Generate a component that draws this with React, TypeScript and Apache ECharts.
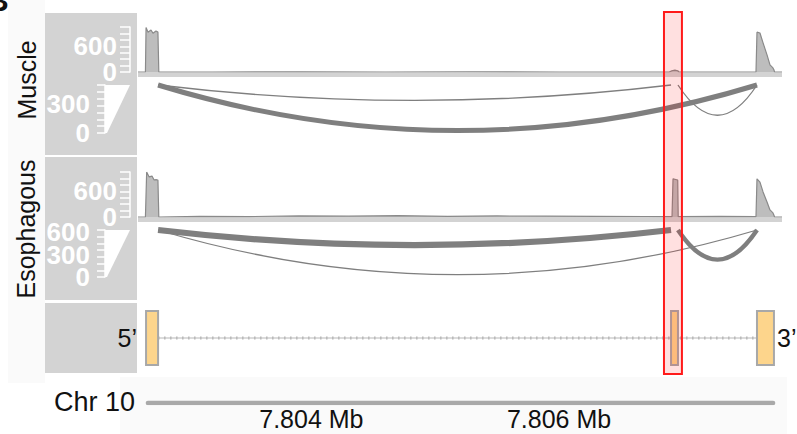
import React, { useEffect, useRef } from 'react';
import * as echarts from 'echarts';

// ---------- data ----------
const GENOME_MIN = 7802600;
const GENOME_MAX = 7807800;

const sampleNames = ['Muscle', 'Esophagous'];

// gene model (exon start / end, bp)
const exonStarts = [7802665, 7806904, 7807598];
const exonEnds = [7802762, 7806960, 7807735];

// read coverage [position, reads]
const muscleCoverage: [number, number][] = [
  [7802600, 0], [7802660, 0], [7802665, 1040], [7802681, 930], [7802705, 980],
  [7802721, 905], [7802745, 955], [7802761, 930], [7802768, 0],
  [7803200, 0], [7803900, 5], [7804600, 0], [7805300, 6], [7806000, 0],
  [7806890, 0], [7806910, 30], [7806935, 45], [7806958, 30], [7806968, 0],
  [7807590, 0], [7807598, 930], [7807622, 910], [7807647, 680], [7807679, 400],
  [7807703, 165], [7807727, 95], [7807735, 50], [7807740, 0], [7807800, 0],
];
const esophagousCoverage: [number, number][] = [
  [7802600, 0], [7802660, 0], [7802670, 1050], [7802690, 935], [7802713, 955],
  [7802730, 865], [7802750, 870], [7802761, 860], [7802768, 0],
  [7803100, 15], [7803500, 10], [7803900, 25], [7804300, 20], [7804700, 30],
  [7805100, 15], [7805500, 25], [7805900, 20], [7806300, 15], [7806700, 12],
  [7806912, 10], [7806920, 890], [7806950, 870], [7806958, 860], [7806962, 8],
  [7807300, 15], [7807590, 10], [7807598, 890], [7807622, 815], [7807647, 585],
  [7807679, 350], [7807703, 165], [7807727, 95], [7807735, 40], [7807740, 0], [7807800, 0],
];

// splice junctions [donor, acceptor, reads]
const muscleJunctions: [number, number, number][] = [
  [7802762, 7806904, 20],
  [7802762, 7807598, 450],
  [7806960, 7807598, 25],
];
const esophagousJunctions: [number, number, number][] = [
  [7802762, 7806904, 560],
  [7802762, 7807598, 18],
  [7806960, 7807598, 400],
];
// how far each arc hangs, as a share of the junction track height
const junctionArcDepth = [0.32, 0.95, 0.63];

// axes
const coverageMax = 1050;
const coverageTickStep = 150;
const coverageLabels = [0, 600];
const muscleJunctionMax = 490;
const muscleJunctionTickStep = 70;
const muscleJunctionLabels = [0, 300];
const esophagousJunctionMax = 630;
const esophagousJunctionTickStep = 90;
const esophagousJunctionLabels = [0, 300, 600];

const chrName = 'Chr 10';
const chrSpan = [7802680, 7807728];
const chrTickLabels = [7804000, 7806000];
const highlightRegion = [7806847, 7806992];

// ---------- styles ----------
const FONT = 'Liberation Sans, Arial, Helvetica, sans-serif';
const PANEL_GRAY = '#d3d3d3';
const ARC_COLOR = '#7f7f7f';
const EXON_TOP = 0.886;
const EXON_BOTTOM = 0.114;

const App: React.FC = () => {
  const ref = useRef<HTMLDivElement>(null);

  useEffect(() => {
    if (!ref.current) return;
    const chart = echarts.init(ref.current, undefined, { renderer: 'svg' });

    const L = 138;
    const R = 15;
    const grids = [
      { left: L, right: R, top: 27, height: 45 },
      { left: L, right: R, top: 85, height: 48 },
      { left: L, right: R, top: 172, height: 45 },
      { left: L, right: R, top: 230, height: 47 },
      { left: L, right: R, top: 303, height: 70 },
      { left: L, right: R, top: 393, height: 10 },
    ];

    const xAxes = grids.map((_, i) => ({
      type: 'value',
      gridIndex: i,
      position: 'bottom',
      min: GENOME_MIN,
      max: GENOME_MAX,
      show: i === 5,
      axisLine: { show: false },
      axisTick: { show: false },
      splitLine: { show: false },
      axisLabel:
        i === 5
          ? {
              customValues: chrTickLabels,
              formatter: (v: number) => (v / 1e6).toFixed(3) + ' Mb',
              fontSize: 25,
              fontFamily: FONT,
              color: '#111',
              verticalAlign: 'middle',
              margin: 16,
            }
          : { show: false },
    }));

    const labelStyle = (values: number[], margin: number) => ({
      customValues: values,
      color: '#ffffff',
      fontWeight: 'bold',
      fontSize: 26,
      fontFamily: FONT,
      margin,
    });

    // main axis: line, ticks and every other label
    const countAxis = (
      gridIndex: number,
      max: number,
      step: number,
      labels: number[],
      offset: number,
      tickLen: number,
      margin: number
    ) => ({
      type: 'value',
      gridIndex,
      position: 'left',
      min: 0,
      max,
      interval: step,
      offset,
      axisLine: { show: true, lineStyle: { color: '#ffffff', width: 1.5 } },
      axisTick: { show: true, length: tickLen, lineStyle: { color: '#ffffff', width: 1.5 } },
      splitLine: { show: false },
      axisLabel: labelStyle(labels.filter((_, i) => i % 2 === 0), margin),
    });
    // companion axis on the same scale carrying the remaining labels
    const labelAxis = (
      gridIndex: number,
      max: number,
      step: number,
      labels: number[],
      offset: number,
      margin: number
    ) => ({
      type: 'value',
      gridIndex,
      position: 'left',
      min: 0,
      max,
      interval: step,
      offset,
      axisLine: { show: false },
      axisTick: { show: false },
      splitLine: { show: false },
      axisLabel: labelStyle(labels.filter((_, i) => i % 2 === 1), margin),
    });

    const yAxes = [
      countAxis(0, coverageMax, coverageTickStep, coverageLabels, 8, 10, 13),
      countAxis(1, muscleJunctionMax, muscleJunctionTickStep, muscleJunctionLabels, 33, 8, 15),
      countAxis(2, coverageMax, coverageTickStep, coverageLabels, 8, 10, 13),
      countAxis(3, esophagousJunctionMax, esophagousJunctionTickStep, esophagousJunctionLabels, 33, 8, 15),
      { type: 'value', gridIndex: 4, position: 'left', min: 0, max: 1, show: false },
      { type: 'value', gridIndex: 5, position: 'left', min: 0, max: 1, show: false },
      labelAxis(0, coverageMax, coverageTickStep, coverageLabels, 8, 13),
      labelAxis(1, muscleJunctionMax, muscleJunctionTickStep, muscleJunctionLabels, 33, 15),
      labelAxis(2, coverageMax, coverageTickStep, coverageLabels, 8, 13),
      labelAxis(3, esophagousJunctionMax, esophagousJunctionTickStep, esophagousJunctionLabels, 33, 15),
    ];

    const arcRender = (yMax: number) => (params: any, api: any) => {
      const s = api.value(0);
      const e = api.value(1);
      const c = api.value(2);
      const d = api.value(3);
      const p1 = api.coord([s, yMax]);
      const p2 = api.coord([e, yMax]);
      const base = api.coord([s, 0]);
      const depthPx = d * (base[1] - p1[1]);
      return {
        type: 'bezierCurve',
        shape: {
          x1: p1[0],
          y1: p1[1],
          x2: p2[0],
          y2: p2[1],
          cpx1: (p1[0] + p2[0]) / 2,
          cpy1: p1[1] + 2 * depthPx,
        },
        style: { fill: null, stroke: ARC_COLOR, lineWidth: Math.max(1.3, c / 90) },
      };
    };

    const coverageSeries = (idx: number, data: [number, number][]) => ({
      type: 'line',
      xAxisIndex: idx,
      yAxisIndex: idx,
      data,
      symbol: 'none',
      lineStyle: { color: '#8a8a8a', width: 1.2 },
      areaStyle: { color: '#bdbdbd', opacity: 1 },
      z: 3,
    });

    const junctionSeries = (idx: number, max: number, data: [number, number, number][]) => ({
      type: 'custom',
      xAxisIndex: idx,
      yAxisIndex: idx,
      clip: false,
      encode: { x: [0, 1], y: 2 },
      data: data.map((j, i) => [j[0], j[1], j[2], junctionArcDepth[i]]),
      renderItem: arcRender(max),
      z: 3,
    });

    const intron = [
      [exonEnds[0], 0.5],
      [exonStarts[exonStarts.length - 1], 0.5],
    ];

    const option: any = {
      animation: false,
      backgroundColor: '#ffffff',
      grid: grids,
      xAxis: xAxes,
      yAxis: yAxes,
      series: [
        coverageSeries(0, muscleCoverage),
        junctionSeries(1, muscleJunctionMax, muscleJunctions),
        coverageSeries(2, esophagousCoverage),
        junctionSeries(3, esophagousJunctionMax, esophagousJunctions),
        {
          type: 'line',
          xAxisIndex: 4,
          yAxisIndex: 4,
          data: intron,
          symbol: 'none',
          lineStyle: { color: '#b8b8b8', width: 1.2 },
          z: 2,
        },
        {
          type: 'line',
          xAxisIndex: 4,
          yAxisIndex: 4,
          data: intron,
          symbol: 'none',
          lineStyle: { color: '#b8b8b8', width: 3, type: [1.5, 4.5] },
          z: 2,
        },
        {
          type: 'custom',
          xAxisIndex: 4,
          yAxisIndex: 4,
          encode: { x: [0, 1] },
          data: exonStarts.map((s, i) => [s, exonEnds[i]]),
          renderItem: (params: any, api: any) => {
            const p1 = api.coord([api.value(0), EXON_TOP]);
            const p2 = api.coord([api.value(1), EXON_BOTTOM]);
            return {
              type: 'rect',
              shape: { x: p1[0], y: p1[1], width: p2[0] - p1[0], height: p2[1] - p1[1] },
              style: { fill: '#fdd58c', stroke: '#a8a8a8', lineWidth: 2 },
            };
          },
          z: 4,
        },
        {
          type: 'line',
          xAxisIndex: 5,
          yAxisIndex: 5,
          data: chrSpan.map((p) => [p, 0]),
          symbol: 'none',
          lineStyle: { color: '#a9a9a9', width: 4.5, cap: 'round' },
        },
      ],
    };

    chart.setOption(option);

    const hx1 = chart.convertToPixel({ xAxisIndex: 4 }, highlightRegion[0]) as number;
    const hx2 = chart.convertToPixel({ xAxisIndex: 4 }, highlightRegion[1]) as number;

    const txt = (
      text: string,
      x: number,
      y: number,
      size: number,
      align: string,
      extra: any = {}
    ) => ({
      type: 'text',
      x,
      y,
      z: 20,
      ...extra,
      style: {
        text,
        fill: '#111111',
        font: `${extra.weight || 'normal'} ${size}px ${FONT}`,
        textAlign: align,
        textVerticalAlign: 'middle',
      },
    });

    chart.setOption({
      graphic: {
        elements: [
          { type: 'rect', z: -10, shape: { x: 8, y: 0, width: 37, height: 383 }, style: { fill: '#fafafa' } },
          { type: 'rect', z: -10, shape: { x: 120, y: 377, width: 667, height: 57 }, style: { fill: '#fafafa' } },
          { type: 'rect', z: -5, shape: { x: 45, y: 13, width: 92, height: 142 }, style: { fill: PANEL_GRAY } },
          { type: 'rect', z: -5, shape: { x: 45, y: 157, width: 92, height: 143 }, style: { fill: PANEL_GRAY } },
          { type: 'rect', z: -5, shape: { x: 45, y: 303, width: 92, height: 70 }, style: { fill: PANEL_GRAY } },
          { type: 'rect', z: -5, shape: { x: 138, y: 72, width: 644, height: 5 }, style: { fill: PANEL_GRAY } },
          { type: 'rect', z: -5, shape: { x: 138, y: 217, width: 644, height: 5 }, style: { fill: PANEL_GRAY } },
          {
            type: 'polygon',
            z: -2,
            shape: { points: [[105, 85], [130, 85], [107, 133], [105, 133]] },
            style: { fill: '#ffffff' },
          },
          {
            type: 'polygon',
            z: -2,
            shape: { points: [[105, 230], [130, 230], [107, 277], [105, 277]] },
            style: { fill: '#ffffff' },
          },
          txt(sampleNames[0], 27, 80, 25, 'center', { rotation: Math.PI / 2 }),
          txt(sampleNames[1], 26, 229, 25, 'center', { rotation: Math.PI / 2 }),
          txt('5\u2019', 137, 338, 25, 'right'),
          txt('3\u2019', 777, 338, 25, 'left'),
          txt(chrName, 135, 402, 27, 'right'),
          txt('B', -13, 0, 30, 'left', { weight: 'bold' }),
          {
            type: 'rect',
            z: 100,
            shape: { x: hx1, y: 12, width: hx2 - hx1, height: 362 },
            style: { fill: 'rgba(255,0,0,0.12)', stroke: '#ff1a1a', lineWidth: 2 },
          },
        ],
      },
    });

    return () => chart.dispose();
  }, []);

  return (
    <div
      ref={ref}
      style={{ position: 'absolute', left: 0, top: 0, width: 797, height: 434 }}
    />
  );
};

export default App;
